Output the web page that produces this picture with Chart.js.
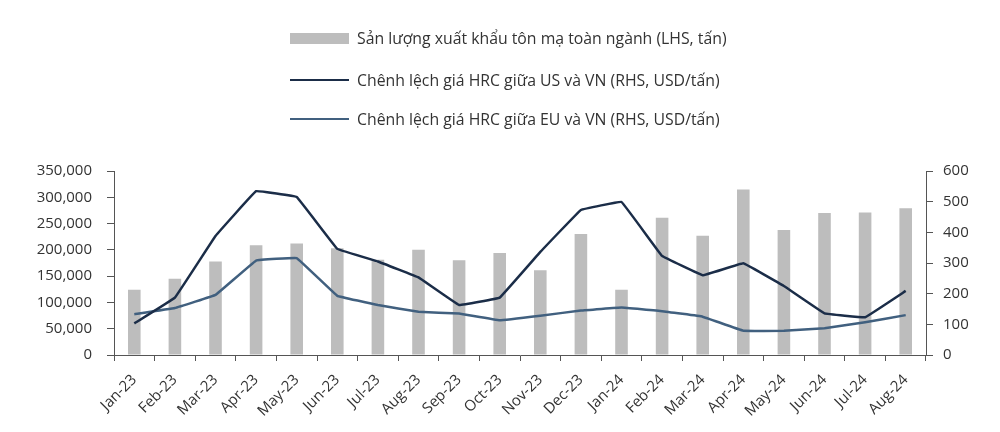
<!DOCTYPE html>
<html>
<head>
<meta charset="utf-8">
<script src="https://cdn.jsdelivr.net/npm/chart.js@4"></script>
<style>
  html, body { margin: 0; padding: 0; background: #fff; }
  #wrap { position: relative; width: 1000px; height: 432px; }
  #legend { position: absolute; left: 290px; top: 0; font-family: "Open Sans", sans-serif; font-size: 15.8px; color: #333; }
  #legend .row { position: absolute; left: 0; white-space: nowrap; display: flex; align-items: center; }
  #legend .sw { width: 59px; margin-right: 8px; }
</style>
</head>
<body>
<div id="wrap">
  <canvas id="chart" width="1000" height="432"></canvas>
  <div id="legend"></div>
</div>
<script>
const months = ['Jan-23', 'Feb-23', 'Mar-23', 'Apr-23', 'May-23', 'Jun-23', 'Jul-23', 'Aug-23', 'Sep-23', 'Oct-23',
  'Nov-23', 'Dec-23', 'Jan-24', 'Feb-24', 'Mar-24', 'Apr-24', 'May-24', 'Jun-24', 'Jul-24', 'Aug-24'];
const exportVolume = [124000, 145000, 178000, 209000, 212000, 203000, 181000, 200000, 180000, 194000,
  161000, 230000, 124000, 261000, 227000, 315000, 238000, 270000, 271000, 279000];
const usSpread = [103, 187, 388, 534, 515, 346, 305, 253, 163, 187, 336, 473, 499, 323, 260, 299, 225, 136, 123, 209];
const euSpread = [133, 153, 196, 308, 316, 193, 163, 141, 135, 113, 128, 145, 155, 143, 125, 79, 79, 87, 107, 130];

const labelBar = 'Sản lượng xuất khẩu tôn mạ toàn ngành (LHS, tấn)';
const labelUS = 'Chênh lệch giá HRC giữa US và VN (RHS, USD/tấn)';
const labelEU = 'Chênh lệch giá HRC giữa EU và VN (RHS, USD/tấn)';

const axisColor = '#555';
const tickFont = { family: 'Open Sans', size: 15 };

const ctx = document.getElementById('chart').getContext('2d');
const chart = new Chart(ctx, {
  data: {
    labels: months,
    datasets: [
      { type: 'line', label: labelUS, data: usSpread, yAxisID: 'y1', borderColor: '#1b2d48', borderWidth: 2.5,
        pointRadius: 0, tension: 0.04, fill: false, order: 1 },
      { type: 'line', label: labelEU, data: euSpread, yAxisID: 'y1', borderColor: '#41607f', borderWidth: 2.5,
        pointRadius: 0, tension: 0.04, fill: false, order: 2 },
      { type: 'bar', label: labelBar, data: exportVolume, yAxisID: 'y', backgroundColor: '#bdbdbd',
        barPercentage: 0.31, categoryPercentage: 1, order: 3 }
    ]
  },
  options: {
    responsive: false,
    animation: false,
    layout: { padding: { top: 171, left: 0, right: 0, bottom: 0 } },
    plugins: { legend: { display: false }, tooltip: { enabled: false } },
    scales: {
      x: {
        grid: { display: true, drawOnChartArea: false, drawTicks: true, tickLength: 6, color: axisColor, offset: true },
        border: { display: true, color: axisColor, width: 1 },
        ticks: { color: '#333', font: tickFont, minRotation: 45, maxRotation: 45, autoSkip: false, padding: 10 },
        afterFit: s => { s.height = 77; }
      },
      y: {
        position: 'left', min: 0, max: 350000,
        grid: { drawOnChartArea: false, drawTicks: true, tickLength: 7, color: axisColor },
        border: { display: true, color: axisColor, width: 1 },
        ticks: { stepSize: 50000, color: '#333', font: tickFont, padding: 15,
          callback: v => v.toLocaleString('en-US') },
        afterFit: s => { s.width = 114; }
      },
      y1: {
        position: 'right', min: 0, max: 600,
        grid: { drawOnChartArea: false, drawTicks: true, tickLength: 7, color: axisColor },
        border: { display: true, color: axisColor, width: 1 },
        ticks: { stepSize: 100, color: '#333', font: tickFont, padding: 10 },
        afterFit: s => { s.width = 74; }
      }
    }
  }
});

// legend stacked on top, built from the datasets
const legend = document.getElementById('legend');
const legendItems = [
  { ds: chart.data.datasets[2], top: 38, bar: true },
  { ds: chart.data.datasets[0], top: 80, bar: false },
  { ds: chart.data.datasets[1], top: 119, bar: false }
];
legendItems.forEach(item => {
  const row = document.createElement('div');
  row.className = 'row';
  row.style.top = (item.top - 11) + 'px';
  row.style.height = '22px';
  const sw = document.createElement('span');
  sw.className = 'sw';
  if (item.bar) {
    sw.style.height = '11px';
    sw.style.background = item.ds.backgroundColor;
  } else {
    sw.style.height = '0';
    sw.style.borderTop = '2.5px solid ' + item.ds.borderColor;
  }
  const txt = document.createElement('span');
  txt.textContent = item.ds.label;
  row.appendChild(sw);
  row.appendChild(txt);
  legend.appendChild(row);
});
</script>
</body>
</html>
